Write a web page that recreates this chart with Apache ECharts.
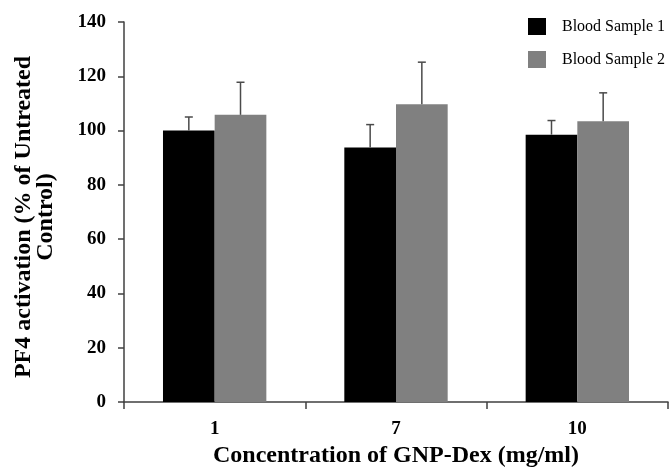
<!DOCTYPE html>
<html>
<head>
<meta charset="utf-8">
<script src="https://cdn.jsdelivr.net/npm/echarts@6/dist/echarts.min.js"></script>
<style>
    html, body { margin: 0; padding: 0; background: #fff; }
    #chart { width: 670px; height: 472px; }
</style>
</head>
<body>
<div id="chart"></div>
<script>
const categories = ["1", "7", "10"];
const sample1 = [100, 93.8, 98.5];
const sample1Err = [5, 8.4, 5.2];
const sample2 = [105.8, 109.7, 103.4];
const sample2Err = [12, 15.5, 10.5];
const yTicks = { min: 0, max: 140, interval: 20 };

const barFrac = 0.285;
const serif = "Liberation Serif";

function errorSeries(name, values, errs, side) {
    return {
        type: "custom",
        name: name + " err",
        z: 3,
        silent: true,
        data: values.map((v, i) => [i, v, v + errs[i]]),
        renderItem(params, api) {
            const band = api.size([1, 0])[0];
            const dx = side * band * barFrac / 2;
            const base = api.coord([api.value(0), api.value(1)]);
            const top = api.coord([api.value(0), api.value(2)]);
            const x = base[0] + dx;
            const style = { stroke: "#4a4a4a", lineWidth: 1.5 };
            return {
                type: "group",
                children: [
                    { type: "line", shape: { x1: x, y1: base[1], x2: x, y2: top[1] }, style },
                    { type: "line", shape: { x1: x - 4, y1: top[1], x2: x + 4, y2: top[1] }, style },
                ],
            };
        },
    };
}

const myChart = echarts.init(document.getElementById("chart"), null, { renderer: "canvas" });

myChart.setOption({
    animation: false,
    textStyle: { fontFamily: serif },
    grid: { left: 124, right: 2, top: 22, bottom: 70, containLabel: false, outerBoundsMode: "none" },
    legend: {
        data: ["Blood Sample 1", "Blood Sample 2"],
        orient: "vertical",
        left: 523,
        top: 13,
        icon: "rect",
        itemWidth: 18,
        itemHeight: 17,
        itemGap: 16,
        textStyle: { fontFamily: serif, fontSize: 16, color: "#000", padding: [0, 0, 0, 11] },
    },
    xAxis: {
        type: "category",
        data: categories,
        name: "Concentration of GNP-Dex (mg/ml)",
        nameLocation: "middle",
        nameGap: 39,
        nameTextStyle: { fontFamily: serif, fontWeight: "bold", fontSize: 24, color: "#000" },
        axisLine: { lineStyle: { color: "#404040", width: 1.5 } },
        axisTick: { show: true, length: 7, lineStyle: { color: "#404040", width: 1.5 } },
        axisLabel: { fontFamily: serif, fontWeight: "bold", fontSize: 19, color: "#000", margin: 18 },
    },
    yAxis: {
        type: "value",
        min: yTicks.min,
        max: yTicks.max,
        interval: yTicks.interval,
        name: "PF4 activation (% of Untreated\nControl)",
        nameLocation: "middle",
        nameRotate: 90,
        nameGap: 67,
        nameTextStyle: {
            fontFamily: serif, fontWeight: "bold", fontSize: 24, color: "#000",
            lineHeight: 22, padding: [0, 10, 0, 0],
        },
        axisLine: { show: true, lineStyle: { color: "#404040", width: 1.5 } },
        axisTick: { show: true, length: 6, lineStyle: { color: "#404040", width: 1.5 } },
        axisLabel: { fontFamily: serif, fontWeight: "bold", fontSize: 19, color: "#000", margin: 18 },
        splitLine: { show: false },
    },
    series: [
        {
            type: "bar",
            name: "Blood Sample 1",
            data: sample1,
            barWidth: (barFrac * 100) + "%",
            barGap: "0%",
            itemStyle: { color: "#000000" },
        },
        {
            type: "bar",
            name: "Blood Sample 2",
            data: sample2,
            barWidth: (barFrac * 100) + "%",
            barGap: "0%",
            itemStyle: { color: "#808080" },
        },
        errorSeries("Blood Sample 1", sample1, sample1Err, -1),
        errorSeries("Blood Sample 2", sample2, sample2Err, 1),
    ],
});
</script>
</body>
</html>
